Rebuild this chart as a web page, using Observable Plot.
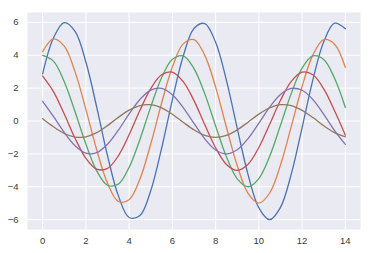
<!DOCTYPE html>
<html>
<head>
<meta charset="utf-8">
<script src="https://cdn.jsdelivr.net/npm/d3@7"></script>
<script src="https://cdn.jsdelivr.net/npm/@observablehq/plot@0.6"></script>
<style>
  html, body { margin: 0; padding: 0; background: #fff; }
  #chart { width: 372px; height: 253px; }
</style>
</head>
<body>
<div id="chart"></div>
<script>
const xs = [0,0.5,1,1.5,2,2.5,3,3.5,4,4.5,5,5.5,6,6.5,7,7.5,8,8.5,9,9.5,10,10.5,11,11.5,12,12.5,13,13.5,14];
const s1 = [2.87,5.05,5.98,5.45,3.59,0.85,-2.11,-4.54,-5.87,-5.75,-4.24,-1.67,1.29,3.94,5.63,5.93,4.79,2.47,-0.45,-3.26,-5.28,-6.00,-5.25,-3.22,-0.40,2.52,4.82,5.95,5.61];
const s2 = [4.21,4.99,4.55,2.99,0.71,-1.75,-3.78,-4.89,-4.79,-3.53,-1.40,1.08,3.28,4.69,4.95,3.99,2.06,-0.38,-2.72,-4.40,-5.00,-4.38,-2.68,-0.33,2.10,4.02,4.95,4.67,3.25];
const s3 = [3.99,3.64,2.39,0.56,-1.40,-3.03,-3.91,-3.84,-2.82,-1.12,0.86,2.63,3.75,3.96,3.19,1.65,-0.30,-2.18,-3.52,-4.00,-3.50,-2.15,-0.26,1.68,3.22,3.96,3.74,2.60,0.82];
const s4 = [2.73,1.79,0.42,-1.05,-2.27,-2.93,-2.88,-2.12,-0.84,0.65,1.97,2.81,2.97,2.39,1.24,-0.23,-1.63,-2.64,-3.00,-2.63,-1.61,-0.20,1.26,2.41,2.97,2.81,1.95,0.62,-0.86];
const s5 = [1.20,0.28,-0.70,-1.51,-1.96,-1.92,-1.41,-0.56,0.43,1.31,1.88,1.98,1.60,0.82,-0.15,-1.09,-1.76,-2.00,-1.75,-1.07,-0.13,0.84,1.61,1.98,1.87,1.30,0.41,-0.58,-1.42];
const s6 = [0.14,-0.35,-0.76,-0.98,-0.96,-0.71,-0.28,0.22,0.66,0.94,0.99,0.80,0.41,-0.08,-0.54,-0.88,-1.00,-0.88,-0.54,-0.07,0.42,0.80,0.99,0.94,0.65,0.21,-0.29,-0.71,-0.96];
const seriesNames = ["s1","s2","s3","s4","s5","s6"];
const seriesValues = [s1,s2,s3,s4,s5,s6];
const colors = ["#4C72B0","#DD8452","#55A868","#C44E52","#8172B3","#937860"];
const xTicks = [0,2,4,6,8,10,12,14];
const yTicks = [-6,-4,-2,0,2,4,6];

const data = [];
seriesValues.forEach((vals, i) => {
  vals.forEach((v, k) => data.push({series: seriesNames[i], x: xs[k], y: v}));
});

const chart = Plot.plot({
  width: 372,
  height: 253,
  marginLeft: 27,
  marginRight: 12,
  marginTop: 12,
  marginBottom: 24,
  style: {fontFamily: "'Liberation Sans', Arial, sans-serif", fontSize: "10px", color: "#3a3a3a", background: "#fff"},
  x: {domain: [-0.7, 14.7], ticks: xTicks, label: null},
  y: {domain: [-6.6, 6.6], ticks: yTicks, label: null},
  color: {domain: seriesNames, range: colors},
  marks: [
    Plot.frame({fill: "#EAEAF2", stroke: null}),
    Plot.gridX(xTicks, {stroke: "#fff", strokeOpacity: 1, strokeWidth: 1}),
    Plot.gridY(yTicks, {stroke: "#fff", strokeOpacity: 1, strokeWidth: 1}),
    Plot.axisX(xTicks, {tickSize: 0, tickPadding: 8, fontSize: 9.5}),
    Plot.axisY(yTicks, {tickSize: 0, tickPadding: 9, fontSize: 9.5}),
    Plot.line(data, {x: "x", y: "y", z: "series", stroke: "series", strokeWidth: 1.3, curve: "catmull-rom"})
  ]
});
document.getElementById("chart").appendChild(chart);
</script>
</body>
</html>
